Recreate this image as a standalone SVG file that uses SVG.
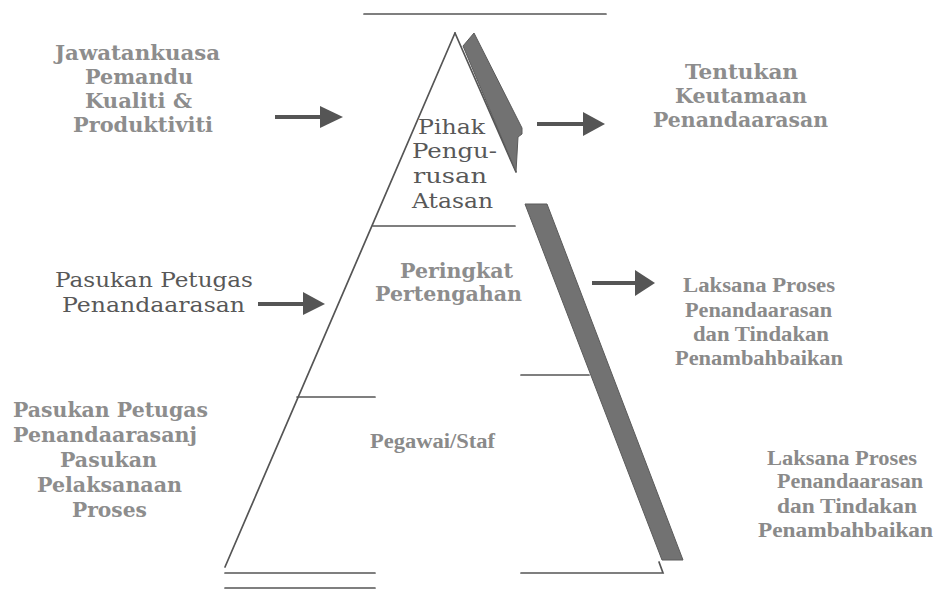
<svg xmlns="http://www.w3.org/2000/svg" width="942" height="589" viewBox="0 0 942 589">
<style>
.ln{stroke:#555;stroke-width:1.7;fill:none;stroke-linecap:round}
.band{fill:#727272;stroke:#5a5a5a;stroke-width:1}
.sh{stroke:#555;stroke-width:4;fill:none}
.hd{fill:#555}
.b{font-family:"DejaVu Serif",serif;font-weight:bold;font-size:21px;fill:#8d8d8d}
.r{font-family:"DejaVu Serif",serif;font-size:20px;fill:#585858}
.t{font-family:"Liberation Serif",serif;font-weight:bold;font-size:20px;fill:#8a8a8a}
</style>
<rect width="942" height="589" fill="#fff"/>
<g id="pyramid">
<line class="ln" x1="364" y1="14" x2="606" y2="14"/>
<polyline class="ln" points="455,33 225,567"/>
<polyline class="ln" points="455,33 516,172"/>
<polygon class="band" points="474,33 522,128 522,134 518,137 516,172 463,46"/>
<polygon class="band" points="525,204 547,204 683,560 662,560"/>
<line class="ln" x1="373" y1="226" x2="515" y2="226"/>
<line class="ln" x1="521" y1="375" x2="589" y2="375"/>
<line class="ln" x1="297" y1="397" x2="375" y2="397"/>
<line class="ln" x1="225" y1="573" x2="375" y2="573"/>
<line class="ln" x1="225" y1="588" x2="375" y2="588"/>
<polyline class="ln" points="521,573 663,573 659,562"/>
</g>
<g id="top-level">
<text class="r" x="418" y="134" textLength="67" lengthAdjust="spacingAndGlyphs">Pihak</text>
<text class="r" x="412" y="158" textLength="85" lengthAdjust="spacingAndGlyphs">Pengu-</text>
<text class="r" x="413" y="183" textLength="74" lengthAdjust="spacingAndGlyphs">rusan</text>
<text class="r" x="412" y="208" textLength="81" lengthAdjust="spacingAndGlyphs">Atasan</text>
</g>
<g id="middle-level">
<text class="b" x="400" y="278" textLength="113" lengthAdjust="spacingAndGlyphs">Peringkat</text>
<text class="b" x="375" y="301" textLength="147" lengthAdjust="spacingAndGlyphs">Pertengahan</text>
</g>
<g id="staff-level">
<text class="t" x="370" y="448" textLength="125" lengthAdjust="spacingAndGlyphs">Pegawai/Staf</text>
</g>
<g id="steering-committee">
<text class="b" x="55" y="60" textLength="165" lengthAdjust="spacingAndGlyphs">Jawatankuasa</text>
<text class="b" x="85" y="84" textLength="108" lengthAdjust="spacingAndGlyphs">Pemandu</text>
<text class="b" x="85" y="108" textLength="107" lengthAdjust="spacingAndGlyphs">Kualiti &amp;</text>
<text class="b" x="73" y="132" textLength="140" lengthAdjust="spacingAndGlyphs">Produktiviti</text>
</g>
<g id="benchmark-taskforce">
<text class="r" x="55" y="287" textLength="198" lengthAdjust="spacingAndGlyphs">Pasukan Petugas</text>
<text class="r" x="62" y="312" textLength="183" lengthAdjust="spacingAndGlyphs">Penandaarasan</text>
</g>
<g id="process-team">
<text class="b" x="13" y="417" textLength="195" lengthAdjust="spacingAndGlyphs">Pasukan Petugas</text>
<text class="b" x="13" y="442" textLength="184" lengthAdjust="spacingAndGlyphs">Penandaarasanj</text>
<text class="b" x="60" y="467" textLength="97" lengthAdjust="spacingAndGlyphs">Pasukan</text>
<text class="b" x="37" y="492" textLength="145" lengthAdjust="spacingAndGlyphs">Pelaksanaan</text>
<text class="b" x="72" y="517" textLength="75" lengthAdjust="spacingAndGlyphs">Proses</text>
</g>
<g id="priorities">
<text class="b" x="685" y="79" textLength="113" lengthAdjust="spacingAndGlyphs">Tentukan</text>
<text class="b" x="675" y="103" textLength="132" lengthAdjust="spacingAndGlyphs">Keutamaan</text>
<text class="b" x="653" y="127" textLength="175" lengthAdjust="spacingAndGlyphs">Penandaarasan</text>
</g>
<g id="execute-upper">
<text class="t" x="683" y="292" textLength="152" lengthAdjust="spacingAndGlyphs">Laksana Proses</text>
<text class="t" x="685" y="317" textLength="147" lengthAdjust="spacingAndGlyphs">Penandaarasan</text>
<text class="t" x="693" y="341" textLength="136" lengthAdjust="spacingAndGlyphs">dan Tindakan</text>
<text class="t" x="675" y="365" textLength="168" lengthAdjust="spacingAndGlyphs">Penambahbaikan</text>
</g>
<g id="execute-lower">
<text class="t" x="767" y="465" textLength="150" lengthAdjust="spacingAndGlyphs">Laksana Proses</text>
<text class="t" x="777" y="488" textLength="146" lengthAdjust="spacingAndGlyphs">Penandaarasan</text>
<text class="t" x="777" y="513" textLength="140" lengthAdjust="spacingAndGlyphs">dan Tindakan</text>
<text class="t" x="758" y="537" textLength="175" lengthAdjust="spacingAndGlyphs">Penambahbaikan</text>
</g>
<g id="connectors">
<line class="sh" x1="275" y1="117" x2="322" y2="117"/>
<polygon class="hd" points="320,106 343,117 320,128"/>
<line class="sh" x1="537" y1="124" x2="585" y2="124"/>
<polygon class="hd" points="583,112 605,124 583,136"/>
<line class="sh" x1="258" y1="304" x2="305" y2="304"/>
<polygon class="hd" points="303,292 325,304 303,315"/>
<line class="sh" x1="592" y1="283" x2="637" y2="283"/>
<polygon class="hd" points="635,270 655,283 635,296"/>
</g>
</svg>
